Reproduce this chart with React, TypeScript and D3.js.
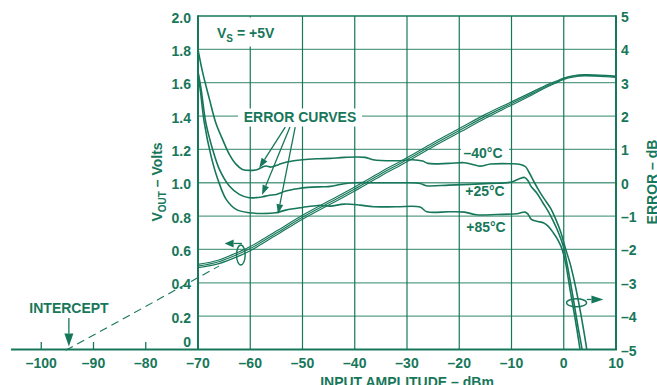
import React from "react";
import * as d3 from "d3";

// ---------- data ----------
const X_TICKS = [-100, -90, -80, -70, -60, -50, -40, -30, -20, -10, 0, 10];
const X_TICK_LABELS = ["–100", "–90", "–80", "–70", "–60", "–50", "–40", "–30", "–20", "–10", "0", "10"];
const X_GRID = [-60, -50, -40, -30, -20, -10, 0];
const X_SMALL_TICKS = [-100, -90, -80];
const V_TICKS = [0, 0.2, 0.4, 0.6, 0.8, 1.0, 1.2, 1.4, 1.6, 1.8, 2.0];
const V_LABELS = ["0", "0.2", "0.4", "0.6", "0.8", "1.0", "1.2", "1.4", "1.6", "1.8", "2.0"];
const V_GRID = [0.2, 0.4, 0.6, 0.8, 1.0, 1.2, 1.4, 1.6, 1.8];
const DB_TICKS = [-5, -4, -3, -2, -1, 0, 1, 2, 3, 4, 5];
const DB_LABELS = ["–5", "–4", "–3", "–2", "–1", "0", "1", "2", "3", "4", "5"];

// VOUT (V) vs input (dBm), three temperatures
const VOUT_A: [number, number][] = [
  [-70, 0.51], [-66, 0.537], [-62, 0.588], [-60, 0.617], [-55, 0.71], [-50, 0.805], [-45, 0.89],
  [-40, 0.975], [-35, 1.065], [-30, 1.15], [-25, 1.24], [-20, 1.325], [-15, 1.41], [-10, 1.485],
  [-6, 1.545], [-3, 1.59], [-1, 1.615], [0, 1.628], [2, 1.643], [4, 1.648], [6, 1.647], [8, 1.644], [10, 1.64],
];
const VOUT_B: [number, number][] = [
  [-70, 0.5], [-66, 0.526], [-62, 0.576], [-60, 0.605], [-55, 0.698], [-50, 0.793], [-45, 0.878],
  [-40, 0.963], [-35, 1.053], [-30, 1.138], [-25, 1.228], [-20, 1.313], [-15, 1.398], [-10, 1.475],
  [-6, 1.536], [-3, 1.583], [-1, 1.61], [0, 1.625], [2, 1.64], [4, 1.644], [6, 1.643], [8, 1.64], [10, 1.636],
];
const VOUT_C: [number, number][] = [
  [-70, 0.49], [-66, 0.515], [-62, 0.563], [-60, 0.592], [-55, 0.686], [-50, 0.781], [-45, 0.866],
  [-40, 0.951], [-35, 1.041], [-30, 1.126], [-25, 1.216], [-20, 1.301], [-15, 1.387], [-10, 1.465],
  [-6, 1.528], [-3, 1.577], [-1, 1.605], [0, 1.62], [2, 1.635], [4, 1.64], [6, 1.639], [8, 1.636], [10, 1.632],
];

// Error (dB) vs input (dBm)
const ERR_M40: [number, number][] = [
  [-70, 4.0], [-69.1, 3.3], [-67.8, 2.5], [-66.6, 1.8], [-65.3, 1.3], [-64, 0.85], [-62.7, 0.55],
  [-61.5, 0.4], [-60, 0.37], [-58.6, 0.4], [-57.8, 0.46], [-57, 0.5], [-56, 0.47], [-54.5, 0.55],
  [-53, 0.62], [-50, 0.69], [-47, 0.72], [-44.7, 0.73], [-42, 0.76], [-38, 0.76], [-36.5, 0.69],
  [-32, 0.66], [-29, 0.69], [-27, 0.65], [-26, 0.58], [-22, 0.58], [-19, 0.6], [-17, 0.53], [-16, 0.5],
  [-14, 0.56], [-10.3, 0.57], [-8.3, 0.55], [-7.3, 0.48], [-6.7, 0.33], [-5.7, 0.03], [-4.8, -0.22],
  [-3.8, -0.47], [-2.5, -0.77], [-1.6, -1.07], [-0.6, -1.47], [0.33, -1.97], [1.3, -2.47],
  [2.3, -3.15], [3.4, -4.05], [4.4, -5.0], [4.6, -5.3],
];
const ERR_P25: [number, number][] = [
  [-70, 3.33], [-69.4, 2.8], [-68.5, 1.8], [-67.2, 1.0], [-65.9, 0.4], [-64, -0.1], [-62.1, -0.35],
  [-60.2, -0.45], [-58.5, -0.44], [-57.6, -0.42], [-56.5, -0.38], [-55, -0.35], [-53.2, -0.25],
  [-51, -0.18], [-49, -0.14], [-46, -0.12], [-44.7, -0.11], [-42, -0.03], [-40, 0.0], [-35, 0.0],
  [-30, 0.0], [-27.5, -0.02], [-26.3, -0.09], [-22, -0.07], [-18, -0.05], [-14, -0.02], [-10, 0.02],
  [-8.5, 0.12], [-7.5, 0.16], [-6.8, 0.05], [-6.3, -0.1], [-5.2, -0.3], [-4, -0.6], [-3, -0.85],
  [-2, -1.15], [-1, -1.5], [0, -1.95], [0.6, -2.4], [1.8, -3.45], [2.7, -4.3], [3.5, -5.0], [3.7, -5.3],
];
const ERR_P85: [number, number][] = [
  [-70, 3.3], [-69.5, 2.7], [-68.8, 1.8], [-67.5, 0.8], [-66.2, 0.1], [-64.6, -0.5], [-62.7, -0.8],
  [-60.2, -0.9], [-57.6, -0.92], [-55.1, -0.9], [-53.2, -0.82], [-50, -0.74], [-47, -0.68],
  [-44.7, -0.7], [-42, -0.64], [-39, -0.67], [-36.4, -0.72], [-32, -0.72], [-27.5, -0.73],
  [-26.2, -0.87], [-22, -0.87], [-19, -0.88], [-16.7, -0.96], [-12.8, -0.95], [-9, -0.93],
  [-7.4, -0.88], [-6.8, -0.95], [-6.2, -1.1], [-5, -1.16], [-3.9, -1.2], [-3, -1.3], [-2, -1.5],
  [-1, -1.75], [-0.3, -2.0], [0.4, -2.45], [1.2, -3.2], [2.2, -4.1], [3.1, -5.0], [3.3, -5.3],
];

// extrapolated dashed line to intercept (dBm, V)
const INTERCEPT_LINE: [number, number][] = [[-95.3, -0.005], [-66, 0.5]];
const INTERCEPT_X = -95;

// ERROR CURVES pointer arrows: [start dBm, start dB, tip dBm, tip dB]
const ERR_ARROWS = [
  [-53.3, 1.67, -58.3, 0.44],
  [-52.4, 1.67, -57.75, -0.37],
  [-51.4, 1.67, -54.7, -0.94],
];

const COLOR = "#17775a";
const GRID_H = "#5b9f86";
const FONT = "'Liberation Sans', Arial, Helvetica, sans-serif";

export default function App() {
  const W = 657, H = 385;
  const L = 198, R = 616, T = 16, B = 349.5;
  const x = d3.scaleLinear().domain([-70, 10]).range([L, R]);
  const yV = d3.scaleLinear().domain([0, 2]).range([B, T]);
  const yE = d3.scaleLinear().domain([-5, 5]).range([B, T]);

  const lineV = d3.line<[number, number]>().x(d => x(d[0])).y(d => yV(d[1])).curve(d3.curveCatmullRom.alpha(0.5));
  const lineE = d3.line<[number, number]>().x(d => x(d[0])).y(d => yE(d[1])).curve(d3.curveCatmullRom.alpha(0.5));

  const arrow = (x1: number, y1: number, x2: number, y2: number, len = 10, half = 3.5, key?: any) => {
    const dx = x2 - x1, dy = y2 - y1;
    const d = Math.sqrt(dx * dx + dy * dy);
    const ux = dx / d, uy = dy / d;
    const bx = x2 - ux * len, by = y2 - uy * len;
    const px = -uy * half, py = ux * half;
    return (
      <g key={key}>
        <line x1={x1} y1={y1} x2={bx} y2={by} stroke={COLOR} strokeWidth={1.3} />
        <polygon points={`${x2},${y2} ${bx + px},${by + py} ${bx - px},${by - py}`} fill={COLOR} />
      </g>
    );
  };

  const txt = { fontFamily: FONT, fontWeight: 700, fontSize: 14, fill: COLOR } as const;

  return (
    <svg width={W} height={H} style={{ position: "absolute", left: 0, top: 0, background: "#fff" }}>
      <defs>
        <clipPath id="plot">
          <rect x={L} y={T} width={R - L} height={B - T} />
        </clipPath>
      </defs>
      <rect x={0} y={0} width={W} height={H} fill="#fff" />

      {/* grid */}
      {V_GRID.map(v => (
        <line key={"h" + v} x1={L} x2={R} y1={yV(v)} y2={yV(v)} stroke={GRID_H} strokeWidth={1.3} />
      ))}
      {X_GRID.map(v => (
        <line key={"v" + v} x1={x(v)} x2={x(v)} y1={T} y2={B} stroke={COLOR} strokeWidth={1.2} />
      ))}

      {/* label knockouts */}
      <rect x={210} y={17.5} width={72} height={29} fill="#fff" />
      <rect x={238} y={108.5} width={124} height={18} fill="#fff" />
      <rect x={461} y={143} width={48} height={18} fill="#fff" />

      {/* frame */}
      <line x1={L} x2={R} y1={T} y2={T} stroke={COLOR} strokeWidth={1.6} />
      <line x1={L} x2={L} y1={T - 0.8} y2={B} stroke={COLOR} strokeWidth={2} />
      <line x1={R} x2={R} y1={T - 0.8} y2={B} stroke={COLOR} strokeWidth={2} />
      <line x1={x(-105.8)} x2={R + 1} y1={B} y2={B} stroke={COLOR} strokeWidth={2} />
      {X_SMALL_TICKS.map(v => (
        <line key={"t" + v} x1={x(v)} x2={x(v)} y1={B} y2={B - 7.5} stroke={COLOR} strokeWidth={1.3} />
      ))}

      {/* curves */}
      <g clipPath="url(#plot)" fill="none" stroke={COLOR}>
        {[ERR_M40, ERR_P25, ERR_P85].map((s, i) => (
          <path key={"e" + i} d={lineE(s) || ""} strokeWidth={1.6} />
        ))}
        {[VOUT_A, VOUT_B, VOUT_C].map((s, i) => (
          <path key={"o" + i} d={lineV(s) || ""} strokeWidth={1.15} />
        ))}
      </g>

      {/* intercept dashed line */}
      <path
        d={d3.line<[number, number]>().x(d => x(d[0])).y(d => yV(d[1]))(INTERCEPT_LINE) || ""}
        fill="none" stroke={COLOR} strokeWidth={1.1} strokeDasharray="8,5"
      />

      {/* left ellipse + arrow */}
      <ellipse cx={x(-61.8)} cy={yV(0.567)} rx={4.3} ry={10} fill="none" stroke={COLOR} strokeWidth={1.4} />
      {arrow(x(-61.6), yV(0.636), x(-64.9), yV(0.636), 9, 4)}

      {/* right ellipse + arrow */}
      <ellipse cx={x(2.45)} cy={yE(-3.6)} rx={10} ry={4} fill="none" stroke={COLOR} strokeWidth={1.4} />
      {arrow(x(4.4), yE(-3.5), x(7.6), yE(-3.5), 12, 4)}

      {/* error curve pointers */}
      {ERR_ARROWS.map((a, i) => arrow(x(a[0]), yE(a[1]), x(a[2]), yE(a[3]), 10, 3.4, "a" + i))}

      {/* intercept arrow */}
      {arrow(x(INTERCEPT_X) + 1.5, 318, x(INTERCEPT_X) + 1.5, 346.5, 13, 4.5)}

      {/* left tick labels */}
      {V_TICKS.map((v, i) => (
        <text key={"lv" + v} x={191} y={v === 0 ? yV(v) - 8 + 5 : yV(v) + 1.5 + 5} textAnchor="end" {...txt}>
          {V_LABELS[i]}
        </text>
      ))}
      {/* right tick labels */}
      {DB_TICKS.map((v, i) => (
        <text key={"rv" + v} x={621} y={yE(v) + 1 + 5} textAnchor="start" {...txt}>
          {DB_LABELS[i]}
        </text>
      ))}
      {/* x tick labels */}
      {X_TICKS.map((v, i) => (
        <text key={"xv" + v} x={x(v)} y={367.5} textAnchor="middle" {...txt}>
          {X_TICK_LABELS[i]}
        </text>
      ))}

      {/* axis titles */}
      <text transform="translate(162,182) rotate(-90)" textAnchor="middle" {...txt}>
        V<tspan fontSize={10} dy={4}>OUT</tspan><tspan dy={-4}> – Volts</tspan>
      </text>
      <text transform="translate(657,182) rotate(-90)" textAnchor="middle" {...txt}>
        ERROR – dB
      </text>
      <text x={407} y={387} textAnchor="middle" {...txt}>
        INPUT AMPLITUDE – dBm
      </text>

      {/* annotations */}
      <text x={217} y={38} {...txt}>
        V<tspan fontSize={10} dy={4}>S</tspan><tspan dy={-4}> = +5V</tspan>
      </text>
      <text x={300} y={122} textAnchor="middle" {...txt}>ERROR CURVES</text>
      <text x={483} y={158} textAnchor="middle" {...txt}>–40°C</text>
      <text x={485} y={196} textAnchor="middle" {...txt}>+25°C</text>
      <text x={486} y={232} textAnchor="middle" {...txt}>+85°C</text>
      <text x={69} y={313} textAnchor="middle" {...txt}>INTERCEPT</text>
    </svg>
  );
}
